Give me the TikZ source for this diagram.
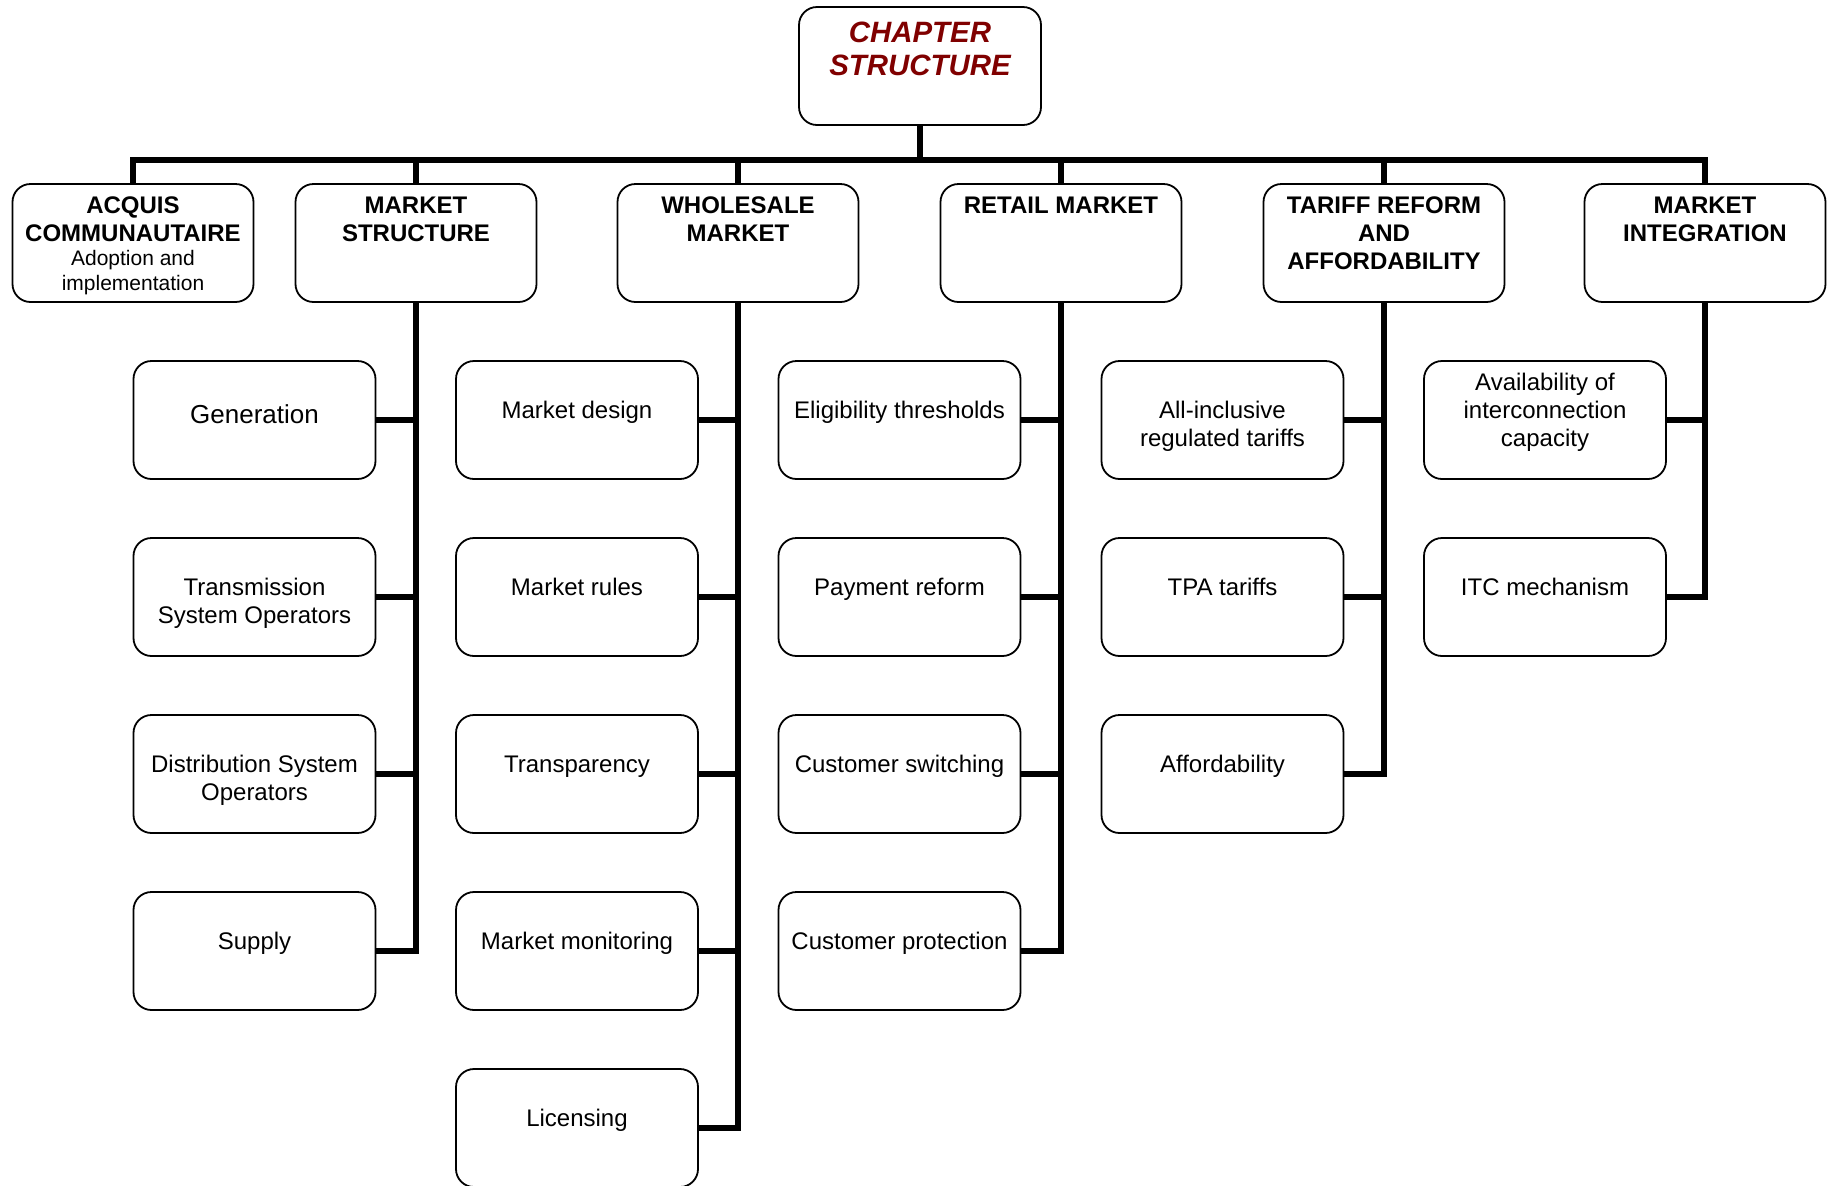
\documentclass[tikz,border=0pt]{standalone}
\usepackage{fontspec}
\setmainfont{Liberation Sans}
\usepackage{xcolor}
\usepackage{tikz}
\usetikzlibrary{shapes,positioning,calc}

\definecolor{titlered}{RGB}{128,0,0}
\newcommand{\acqsub}{\fontsize{10.5}{14}\selectfont\mdseries}

\begin{document}
\begin{tikzpicture}[x=0.5pt, y=-0.5pt,
        titlebox/.style={rectangle, draw=black, line width=0.9pt, fill=white, rounded corners=9pt, minimum width=121pt, minimum height=59pt, inner sep=2pt, text width=114pt, align=flush center, text=titlered, font=\fontsize{14.7}{16.6}\selectfont\bfseries\itshape, text height=10.5pt, text depth=34.5pt},
        headbox/.style={rectangle, draw=black, line width=0.9pt, fill=white, rounded corners=9pt, minimum width=120.5pt, minimum height=59pt, inner sep=2pt, text width=114pt, align=flush center, font=\fontsize{12}{14}\selectfont\bfseries, text height=8.6pt, text depth=38.6pt},
        itembox/.style={rectangle, draw=black, line width=0.9pt, fill=white, rounded corners=9pt, minimum width=121pt, minimum height=59pt, inner sep=2pt, text width=114pt, align=flush center, font=\fontsize{12}{14}\selectfont, text height=8.6pt, text depth=10.6pt},
        link/.style={line width=3.2pt, line join=miter}
    ]

    \useasboundingbox (0,0) rectangle (1827,1185);
    \clip (0,0) rectangle (1827,1185);

    % Title
    \node[titlebox] (title) at (920, 66) {CHAPTER\\STRUCTURE};

    % === Chapter parts ===
    \node[headbox] (acq) at (133, 243) {ACQUIS\\COMMUNAUTAIRE\\[-1.75pt]\acqsub Adoption and\\[-1.75pt]implementation};
    \node[headbox] (mstr) at (416, 243) {MARKET\\STRUCTURE};
    \node[headbox] (whole) at (738, 243) {WHOLESALE\\MARKET};
    \node[headbox] (retail) at (1061, 243) {RETAIL MARKET};
    \node[headbox] (tariff) at (1384, 243) {TARIFF REFORM\\AND\\AFFORDABILITY};
    \node[headbox] (integ) at (1705, 243) {MARKET\\INTEGRATION};

    % === Market structure ===
    \node[itembox, font=\fontsize{13}{15}\selectfont, text height=9.3pt, text depth=6.3pt] (gen) at (254.5, 420) {Generation};
    \node[itembox] (tso) at (254.5, 597) {Transmission\\System Operators};
    \node[itembox] (dso) at (254.5, 774) {Distribution System\\Operators};
    \node[itembox] (supply) at (254.5, 951) {Supply};

    % === Wholesale market ===
    \node[itembox] (design) at (577, 420) {Market design};
    \node[itembox] (rules) at (577, 597) {Market rules};
    \node[itembox] (transp) at (577, 774) {Transparency};
    \node[itembox] (monit) at (577, 951) {Market monitoring};
    \node[itembox] (licen) at (577, 1128) {Licensing};

    % === Retail market ===
    \node[itembox] (elig) at (899.5, 420) {Eligibility thresholds};
    \node[itembox] (pay) at (899.5, 597) {Payment reform};
    \node[itembox] (switch) at (899.5, 774) {Customer switching};
    \node[itembox] (protect) at (899.5, 951) {Customer protection};

    % === Tariff reform and affordability ===
    \node[itembox] (allinc) at (1222.5, 420) {All-inclusive\\regulated tariffs};
    \node[itembox] (tpa) at (1222.5, 597) {TPA tariffs};
    \node[itembox] (afford) at (1222.5, 774) {Affordability};

    % === Market integration ===
    \node[itembox, text depth=38.1pt] (avail) at (1545, 420) {Availability of\\interconnection\\capacity};
    \node[itembox] (itc) at (1545, 597) {ITC mechanism};

    % === Tree lines ===
    \coordinate (bus) at (920, 160);
    \draw[link] (title.south) -- (bus);
    \draw[link] (acq.north) |- (bus) -| (integ.north);
    \draw[link] (mstr.north) -- (mstr.north |- bus);
    \draw[link] (whole.north) -- (whole.north |- bus);
    \draw[link] (retail.north) -- (retail.north |- bus);
    \draw[link] (tariff.north) -- (tariff.north |- bus);

    % Market structure branch
    \draw[link] (mstr.south) |- (supply.east);
    \draw[link] (gen.east) -- (gen.east -| mstr.south);
    \draw[link] (tso.east) -- (tso.east -| mstr.south);
    \draw[link] (dso.east) -- (dso.east -| mstr.south);

    % Wholesale branch
    \draw[link] (whole.south) |- (licen.east);
    \draw[link] (design.east) -- (design.east -| whole.south);
    \draw[link] (rules.east) -- (rules.east -| whole.south);
    \draw[link] (transp.east) -- (transp.east -| whole.south);
    \draw[link] (monit.east) -- (monit.east -| whole.south);

    % Retail branch
    \draw[link] (retail.south) |- (protect.east);
    \draw[link] (elig.east) -- (elig.east -| retail.south);
    \draw[link] (pay.east) -- (pay.east -| retail.south);
    \draw[link] (switch.east) -- (switch.east -| retail.south);

    % Tariff branch
    \draw[link] (tariff.south) |- (afford.east);
    \draw[link] (allinc.east) -- (allinc.east -| tariff.south);
    \draw[link] (tpa.east) -- (tpa.east -| tariff.south);

    % Integration branch
    \draw[link] (integ.south) |- (itc.east);
    \draw[link] (avail.east) -- (avail.east -| integ.south);

\end{tikzpicture}
\end{document}
